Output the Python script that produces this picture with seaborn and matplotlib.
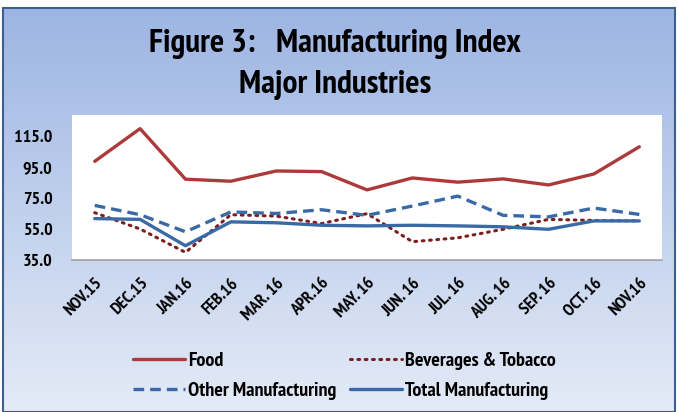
import numpy as np
import pandas as pd
import matplotlib
matplotlib.use('Agg')
import matplotlib.pyplot as plt
import seaborn as sns
from matplotlib.patches import Rectangle

# data
months = ['NOV.15', 'DEC.15', 'JAN.16', 'FEB.16', 'MAR. 16', 'APR.16', 'MAY. 16',
          'JUN. 16', 'JUL. 16', 'AUG. 16', 'SEP. 16', 'OCT. 16', 'NOV.16']
food = [98.6, 119.7, 87.1, 85.8, 92.4, 92.0, 80.2, 87.9, 85.2, 87.3, 83.4, 90.5, 108.0]
beverages = [65.5, 55.0, 39.9, 64.2, 63.3, 58.5, 64.9, 46.8, 49.3, 54.8, 61.2, 60.5, 60.2]
other_manuf = [70.2, 64.2, 53.2, 66.0, 65.0, 67.4, 63.8, 69.8, 76.2, 63.8, 62.8, 68.5, 64.4]
total_manuf = [61.7, 61.2, 44.2, 59.6, 59.0, 57.4, 57.0, 57.4, 57.0, 56.4, 54.8, 60.2, 60.2]
yticks = [35.0, 55.0, 75.0, 95.0, 115.0]

sns.set_style('white')
FONT = ['PT Sans Narrow', 'DejaVu Sans']
plt.rcParams['font.family'] = FONT
plt.rcParams['text.color'] = 'black'
plt.rcParams['xtick.color'] = 'black'
plt.rcParams['ytick.color'] = 'black'

fig = plt.figure(figsize=(6.78, 4.12), dpi=100)
fig.patch.set_facecolor('white')

# gradient background
bg = fig.add_axes([0.004, 0, 0.992, 1 - 8 / 412], zorder=-5)
top = np.array([157, 181, 227]) / 255
bot = np.array([228, 235, 247]) / 255
t = np.linspace(0, 1, 256)[:, None]
grad = (top * (1 - t) + bot * t)[:, None, :]
bg.imshow(grad, aspect='auto', extent=[0, 1, 0, 1])
bg.set_axis_off()
fig.patches.append(Rectangle((0.004, 0.0), 0.992, 1 - 8 / 412, transform=fig.transFigure,
                             fill=False, edgecolor='#3B5E93', linewidth=1.5, zorder=10))

ax = fig.add_axes([72 / 678, 1 - 260 / 412, 590 / 678, 145 / 412])
ax.set_facecolor('white')

x = np.arange(len(months))
df = pd.DataFrame({'x': x, 'Food': food, 'Beverages & Tobacco': beverages,
                   'Other Manufacturing': other_manuf, 'Total Manufacturing': total_manuf})

red = '#AC3A3A'
dred = '#7A1E1E'
blue = '#3A6AA6'

sns.lineplot(data=df, x='x', y='Food', ax=ax, color=red, linewidth=2.4, label='Food')
sns.lineplot(data=df, x='x', y='Beverages & Tobacco', ax=ax, color=dred, linewidth=2.2,
             linestyle=(0, (0.6, 1.8)), dash_capstyle='round', label='Beverages & Tobacco')
sns.lineplot(data=df, x='x', y='Other Manufacturing', ax=ax, color=blue, linewidth=2.4,
             linestyle=(0, (3.2, 1.8)), label='Other Manufacturing')
sns.lineplot(data=df, x='x', y='Total Manufacturing', ax=ax, color=blue, linewidth=2.4,
             label='Total Manufacturing')

ax.set_xlim(-0.5, 12.5)
ax.set_ylim(35, 128.5)
ax.set_yticks(yticks)
ax.set_yticklabels([f'{v:.1f}' for v in yticks], fontsize=13, fontweight='bold')
ax.set_xticks(x)
ax.set_xticklabels(months, rotation=45, ha='right', rotation_mode='anchor',
                   fontsize=12.5, fontweight='bold')
ax.tick_params(axis='y', length=0, pad=14)
ax.tick_params(axis='x', length=0, pad=11)
ax.set_xlabel('')
ax.set_ylabel('')
for s in ['top', 'left', 'right']:
    ax.spines[s].set_visible(False)
ax.spines['bottom'].set_color('#A0A0A0')
ax.spines['bottom'].set_linewidth(1.2)

handles, labels = ax.get_legend_handles_labels()
ax.legend_.remove()
order = [0, 2, 1, 3]
fig.legend([handles[i] for i in order], [labels[i] for i in order], ncol=2,
           loc='center', bbox_to_anchor=(0.508, 1 - 376 / 412), frameon=False,
           prop={'size': 14.5, 'family': FONT, 'weight': 'bold'},
           handlelength=2.55, handletextpad=0.15, columnspacing=0.7, labelspacing=0.6)

fig.text(0.494, 1 - 44 / 412, 'Figure 3:   Manufacturing Index', ha='center', va='center',
         fontsize=24, fontweight='bold')
fig.text(0.494, 1 - 85 / 412, 'Major Industries', ha='center', va='center',
         fontsize=24, fontweight='bold')

plt.savefig('out.png', dpi=100)
